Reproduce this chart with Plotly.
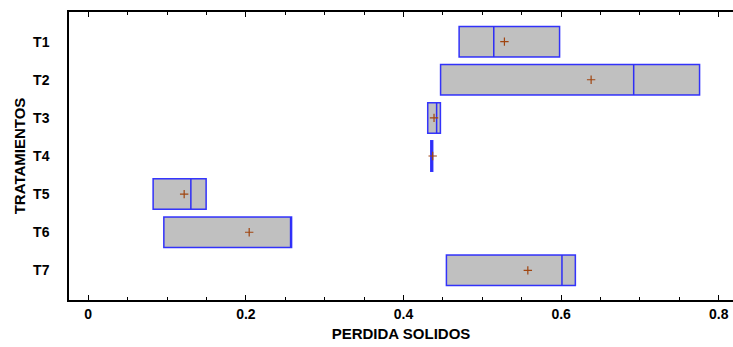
import plotly.graph_objects as go

categories = ["T1", "T2", "T3", "T4", "T5", "T6", "T7"]
q1 = [0.4705, 0.447, 0.4307, 0.4346, 0.0823, 0.0959, 0.4544]
median = [0.5145, 0.692, 0.442, 0.4358, 0.1302, 0.257, 0.601]
q3 = [0.598, 0.7756, 0.4468, 0.4370, 0.1496, 0.258, 0.618]
means = [0.528, 0.638, 0.4387, 0.437, 0.1217, 0.2042, 0.5577]

font_family = "Liberation Sans, Arial, sans-serif"

fig = go.Figure()
fig.add_trace(go.Box(
    y=categories, q1=q1, median=median, q3=q3,
    lowerfence=q1, upperfence=q3,
    orientation="h", width=0.8,
    fillcolor="#c0c0c0",
    line=dict(color="rgba(20,20,255,0.85)", width=1.5),
    whiskerwidth=0, boxpoints=False, hoverinfo="skip",
    showlegend=False,
))
fig.add_trace(go.Scatter(
    x=means, y=categories, mode="markers",
    marker=dict(symbol="cross-thin", size=6, color="#a04510",
                line=dict(color="#a04510", width=1.2)),
    showlegend=False, hoverinfo="skip",
))

fig.update_layout(
    width=733, height=347,
    margin=dict(l=69, r=0, t=12, b=47),
    plot_bgcolor="white", paper_bgcolor="white",
    font=dict(family=font_family, size=14, color="black"),
    xaxis=dict(
        range=[-0.0244, 0.818],
        tickvals=[0, 0.2, 0.4, 0.6, 0.8],
        ticktext=["0", "0.2", "0.4", "0.6", "0.8"],
        ticks="inside", ticklen=5, tickwidth=1, tickcolor="black",
        minor=dict(dtick=0.05, tick0=0, ticks="inside", ticklen=3, tickcolor="black"),
        showline=True, linecolor="black", linewidth=1.5,
        mirror="ticks", showgrid=False, zeroline=False,
        tickfont=dict(size=14, weight="bold"),
        title=dict(text="PERDIDA SOLIDOS", font=dict(size=15, weight="bold"), standoff=8),
    ),
    yaxis=dict(
        categoryorder="array", categoryarray=categories,
        autorange="reversed",
        showline=True, linecolor="black", linewidth=1.5,
        mirror=False, ticks="", showgrid=False, zeroline=False,
        tickfont=dict(size=14, weight="bold"),
        ticklabelstandoff=15,
        title=dict(text="TRATAMIENTOS", font=dict(size=15, weight="bold"), standoff=4),
    ),
)

fig.write_html("out.html")
